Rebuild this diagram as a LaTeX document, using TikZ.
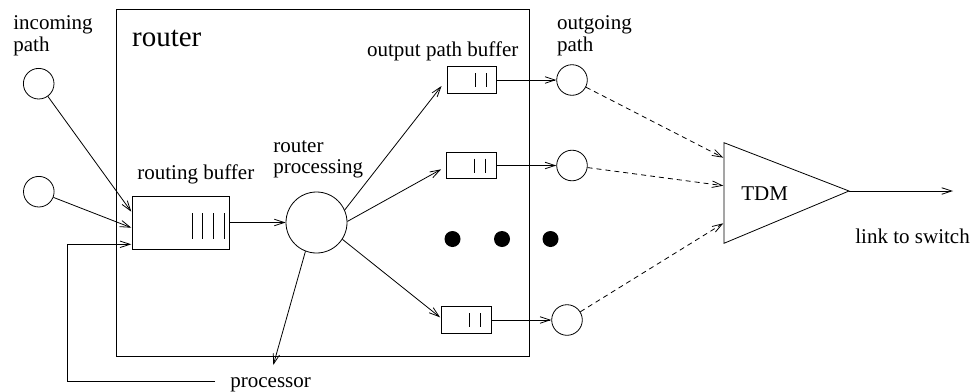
\documentclass[tikz,border=0pt]{standalone}
\usepackage{fontspec}
\setmainfont{Liberation Serif}
\usetikzlibrary{arrows.meta,calc}

\begin{document}
\begin{tikzpicture}[x=1pt,y=-1pt,line width=0.8pt,
  lbl/.style={font=\fontsize{21}{24}\selectfont,inner sep=0pt,anchor=base west},
  biglbl/.style={font=\fontsize{29}{32}\selectfont,inner sep=0pt,anchor=base west},
  port/.style={circle,draw,minimum size=30.6pt,inner sep=0pt},
  buf/.style={draw,rectangle,inner sep=0pt},
  obuf/.style={buf,minimum width=49.5pt,minimum height=26.5pt},
  dot/.style={circle,fill,minimum size=16pt,inner sep=0pt},
  arr/.style={-{Straight Barb[length=10pt,width=6.5pt]}},
  darr/.style={arr,dash pattern=on 5pt off 4pt}]
\useasboundingbox (0,0) rectangle (974,391);

% router enclosure
\node[draw,line width=1pt,minimum width=413pt,minimum height=346.5pt,
      inner sep=0pt,anchor=north west] (router) at (115.5,9) {};
\node[biglbl] (routerlbl) at (131.7,46.7) {router};

% incoming paths
\node[lbl] (inlbl1) at (13,29.3) {incoming};
\node[lbl] (inlbl2) at (13,51) {path};
\node[port] (ic1) at (38.7,83.7) {};
\node[port] (ic2) at (38.8,191.7) {};

% routing buffer
\node[buf,minimum width=97pt,minimum height=53pt] (rbuf) at (180.5,222.5) {};
\foreach \bx in {192,202,213,224} \draw (\bx,213) -- (\bx,239);
\node[lbl] (rbuflbl) at (137,179.5) {routing buffer};

% router processing
\node[circle,draw,minimum size=61pt,inner sep=0pt] (proc) at (316.5,222.5) {};
\node[lbl] (proclbl1) at (273,152.7) {router};
\node[lbl] (proclbl2) at (273,173.3) {processing};

% output path buffers
\node[obuf] (ob1) at (471.7,80) {};
\node[obuf] (ob2) at (471.3,165.5) {};
\node[obuf] (ob3) at (466.2,320) {};
\foreach \b in {ob1,ob2,ob3} {
  \draw ($(\b.center)+(3.5,-7)$) -- ($(\b.center)+(3.5,7)$);
  \draw ($(\b.center)+(14.5,-7)$) -- ($(\b.center)+(14.5,7)$);
}
\node[lbl] (oblbl) at (366.7,56.5) {output path buffer};

% outgoing paths
\node[lbl] (outlbl1) at (556.7,29.3) {outgoing};
\node[lbl] (outlbl2) at (556.7,51) {path};
\node[port] (oc1) at (572,80) {};
\node[port] (oc2) at (572,165.5) {};
\node[port] (oc3) at (567,320) {};

% ellipsis dots
\node[dot] (dot1) at (452.5,239) {};
\node[dot] (dot2) at (502,239) {};
\node[dot] (dot3) at (550.5,239) {};

% TDM multiplexer
\coordinate (tA) at (724,142.7);
\coordinate (tB) at (724,243.3);
\coordinate (tC) at (849,191);
\draw (tA) -- (tC) -- (tB) -- cycle;
\node[lbl] (tdm) at (741,200) {TDM};
\coordinate (d1) at (723.3,157.7);
\coordinate (d2) at (723.3,185.7);
\coordinate (d3) at (723.3,223.3);
\coordinate (linkend) at (953,191);
\node[lbl] (linklbl) at (855,243) {link to switch};

% processor feedback
\node[lbl] (cpulbl) at (230,387) {processor};
\coordinate (fbstart) at (215,381.7);
\coordinate (fbcorner) at (67.7,381.7);
\coordinate (procout) at (273.3,365);

% connectors into the routing buffer
\draw[arr] (ic1) -- ($(rbuf.west)+(-0.3,-10.8)$);
\draw[arr] (ic2) -- ($(rbuf.west)+(-0.3,5.2)$);
\draw[arr] (fbstart) -- (fbcorner) |- ($(rbuf.west)+(-0.3,21.8)$);
\draw[arr] (rbuf.east) -- (proc.west);

% connectors out of the router processor
\draw[arr] (proc.24) -- ($(ob1.west)+(-5,6)$);
\draw[arr] (proc.2) -- ($(ob2.west)+(-5,3.8)$);
\draw[arr] (proc.-33) -- ($(ob3.west)+(-1,-2.7)$);
\draw[arr] (proc.-111) -- (procout);

% buffers to outgoing paths
\draw[arr] (ob1.east) -- (oc1.west);
\draw[arr] (ob2.east) -- (oc2.west);
\draw[arr] (ob3.east) -- (oc3.west);

% outgoing paths into the multiplexer
\draw[darr] (oc1) -- (d1);
\draw[darr] (oc2) -- (d2);
\draw[darr] (oc3) -- (d3);
\draw[arr] (tC) -- (linkend);
\end{tikzpicture}
\end{document}
